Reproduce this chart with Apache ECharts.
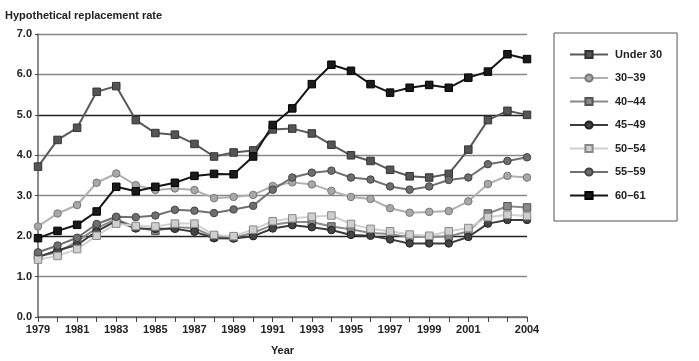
<!DOCTYPE html>
<html>
<head>
<meta charset="utf-8">
<script src="https://cdn.jsdelivr.net/npm/echarts@6/dist/echarts.min.js"></script>
<style>html,body{margin:0;padding:0;background:#fff;}#chart{width:699px;height:361px;}</style>
</head>
<body>
<div id="chart"></div>
<script>
const years = ['1979','1980','1981','1982','1983','1984','1985','1986','1987','1988','1989','1990','1991','1992','1993','1994','1995','1996','1997','1998','1999','2000','2001','2002','2003','2004'];
const under30 = [3.72,4.38,4.68,5.57,5.71,4.87,4.55,4.51,4.28,3.97,4.07,4.12,4.64,4.66,4.54,4.26,4.00,3.86,3.64,3.48,3.45,3.54,4.14,4.87,5.10,5.00];
const a30_39 = [2.24,2.56,2.77,3.32,3.55,3.26,3.14,3.18,3.14,2.94,2.97,3.02,3.24,3.33,3.28,3.12,2.97,2.92,2.69,2.58,2.60,2.62,2.86,3.29,3.49,3.45];
const a40_44 = [1.50,1.60,1.87,2.20,2.42,2.22,2.13,2.22,2.20,1.98,1.97,2.08,2.28,2.35,2.35,2.24,2.17,2.08,2.05,1.98,1.98,1.99,2.12,2.56,2.74,2.71];
const a45_49 = [1.48,1.65,1.78,2.12,2.38,2.19,2.18,2.18,2.11,1.95,1.94,2.00,2.19,2.27,2.22,2.15,2.03,2.01,1.92,1.82,1.82,1.82,1.98,2.31,2.40,2.40];
const a50_54 = [1.42,1.51,1.68,2.01,2.31,2.25,2.24,2.31,2.31,2.03,2.00,2.16,2.37,2.44,2.48,2.51,2.30,2.18,2.12,2.04,2.01,2.12,2.20,2.47,2.53,2.50];
const a55_59 = [1.60,1.77,1.96,2.30,2.48,2.47,2.51,2.65,2.63,2.57,2.66,2.75,3.15,3.45,3.57,3.62,3.45,3.40,3.23,3.15,3.23,3.39,3.45,3.78,3.86,3.95];
const a60_61 = [1.95,2.13,2.28,2.61,3.22,3.11,3.22,3.32,3.49,3.54,3.53,3.97,4.75,5.16,5.76,6.24,6.09,5.76,5.55,5.67,5.74,5.67,5.92,6.07,6.50,6.38];
const yTicks = ['0.0','1.0','2.0','3.0','4.0','5.0','6.0','7.0'];

const FONT = '"Liberation Sans", Arial, sans-serif';
function mk(name, data, symbol, line, fill, border) {
  return {
    name: name, type: 'line', data: data, symbol: symbol, symbolSize: 7.5,
    lineStyle: { color: line, width: 2 },
    itemStyle: { color: fill, borderColor: border, borderWidth: 1 },
    emphasis: { disabled: true }, animation: false
  };
}
const chart = echarts.init(document.getElementById('chart'), null, { renderer: 'canvas' });
chart.setOption({
  animation: false,
  title: { text: 'Hypothetical replacement rate', left: 0, top: 5,
    textStyle: { fontFamily: FONT, fontSize: 11, fontWeight: 'bold', color: '#222' } },
  grid: { left: 38, right: 172, top: 34, bottom: 38, containLabel: false },
  legend: {
    orient: 'vertical', left: 554, top: 33,
    padding: [16, 15, 20, 15], itemGap: 12.5, itemWidth: 38, itemHeight: 9,
    borderColor: '#555', borderWidth: 1,
    textStyle: { fontFamily: FONT, fontSize: 11, fontWeight: 'bold', color: '#222', padding: [0,0,0,2] },
    data: ['Under 30','30–39','40–44','45–49','50–54','55–59','60–61']
  },
  xAxis: {
    type: 'category', data: years, boundaryGap: false,
    name: 'Year', nameLocation: 'middle', nameGap: 28,
    nameTextStyle: { fontFamily: FONT, fontSize: 11, fontWeight: 'bold', color: '#222' },
    axisLine: { lineStyle: { color: '#666', width: 1.5 } },
    axisTick: { show: true, inside: false, length: 5, interval: 0, lineStyle: { color: '#444' } },
    axisLabel: {
      interval: function (i) { return (i % 2 === 0 && i < 24) || i === 25; },
      fontFamily: FONT, fontSize: 11, fontWeight: 'bold', color: '#222', margin: 7
    },
    splitLine: { show: false }
  },
  yAxis: {
    type: 'value', min: 0, max: 7, interval: 1,
    axisLine: { show: true, lineStyle: { color: '#666', width: 1.5 } },
    axisTick: { show: true, length: 3, lineStyle: { color: '#444' } },
    axisLabel: { formatter: function (v) { return yTicks[Math.round(v)]; },
      fontFamily: FONT, fontSize: 11, fontWeight: 'bold', color: '#222', margin: 6 },
    splitLine: { show: true, lineStyle: { color: ['#888','#888','#222','#888','#888','#222','#888','#888'], width: 1.3 } }
  },
  series: [
    mk('Under 30', under30, 'rect', '#5a5a5a', '#555', '#333'),
    mk('30–39', a30_39, 'circle', '#b0b0b0', '#a8a8a8', '#777'),
    mk('40–44', a40_44, 'rect', '#8a8a8a', '#888', '#555'),
    mk('45–49', a45_49, 'circle', '#3c3c3c', '#444', '#222'),
    mk('50–54', a50_54, 'rect', '#d0d0d0', '#cfcfcf', '#888'),
    mk('55–59', a55_59, 'circle', '#707070', '#6e6e6e', '#444'),
    mk('60–61', a60_61, 'rect', '#151515', '#1a1a1a', '#000')
  ]
});
</script>
</body>
</html>
